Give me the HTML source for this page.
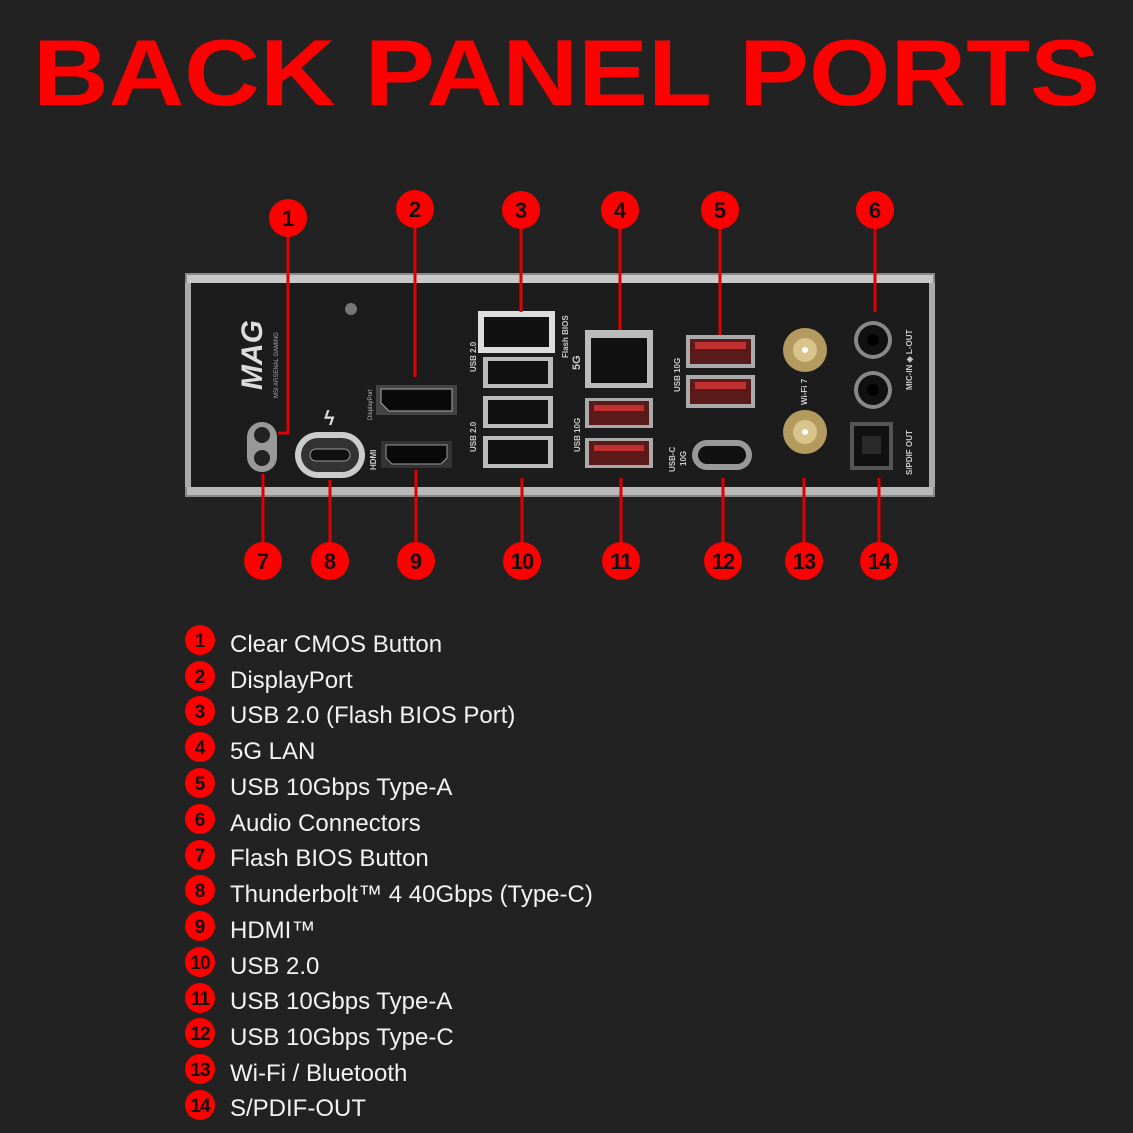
<!DOCTYPE html>
<html><head><meta charset="utf-8"><style>
html,body{margin:0;padding:0;background:#222;}
svg{display:block;}
</style></head><body>
<svg width="1133" height="1133" viewBox="0 0 1133 1133" xmlns="http://www.w3.org/2000/svg" font-family="Liberation Sans, sans-serif">
<rect width="1133" height="1133" fill="#222"/>
<text x="33" y="105" font-size="94" font-weight="bold" fill="#ff0000" textLength="1067" lengthAdjust="spacingAndGlyphs">BACK PANEL PORTS</text>

<!-- panel -->
<rect x="185" y="273" width="750" height="224" fill="#8a8a8a"/>
<rect x="187" y="275" width="746" height="8" fill="#c8c8c8"/>
<rect x="187" y="487" width="746" height="8" fill="#b8b8b8"/>
<rect x="191" y="283" width="738" height="204" fill="#1c1c1c"/>
<rect x="185" y="283" width="6" height="204" fill="#aaa"/>
<rect x="929" y="283" width="6" height="204" fill="#aaa"/>

<!-- logo -->
<text x="0" y="0" transform="translate(262,390) rotate(-90)" font-size="30" font-weight="bold" font-style="italic" fill="#ddd">MAG</text>
<text x="0" y="0" transform="translate(278,398) rotate(-90)" font-size="6" fill="#aaa">MSI ARSENAL GAMING</text>
<circle cx="351" cy="309" r="6" fill="#777"/>

<!-- clear cmos -->
<rect x="247" y="422" width="30" height="50" rx="15" fill="#999"/>
<circle cx="262" cy="435" r="8" fill="#222"/><circle cx="262" cy="458" r="8" fill="#222"/>
<!-- TB4 -->
<text x="324" y="425" font-size="20" fill="#ddd" font-weight="bold">ϟ</text>
<rect x="295" y="432" width="70" height="46" rx="23" fill="#ccc"/>
<rect x="301" y="438" width="58" height="34" rx="17" fill="#333"/>
<rect x="310" y="449" width="40" height="12" rx="6" fill="#111" stroke="#999"/>
<!-- DP -->
<rect x="376" y="385" width="81" height="30" fill="#444"/>
<path d="M381 389 H452 V411 H389 L381 403 Z" fill="#0a0a0a" stroke="#aaa" stroke-width="1"/>
<text transform="translate(372,420) rotate(-90)" font-size="6" fill="#bbb">DisplayPort</text>
<!-- HDMI -->
<rect x="381" y="441" width="71" height="27" fill="#333"/>
<path d="M386 445 H447 V458 L441 464 H392 L386 458 Z" fill="#0a0a0a" stroke="#999"/>
<text transform="translate(376,470) rotate(-90)" font-size="8" fill="#ccc" font-weight="bold">HDMI</text>
<!-- USB2 stack -->
<rect x="478" y="311" width="77" height="42" fill="#ddd"/>
<rect x="484" y="317" width="65" height="30" fill="#111"/>
<rect x="483" y="357" width="70" height="31" fill="#bbb"/><rect x="488" y="361" width="60" height="23" fill="#111"/>
<rect x="483" y="396" width="70" height="32" fill="#bbb"/><rect x="488" y="400" width="60" height="24" fill="#111"/>
<rect x="483" y="436" width="70" height="32" fill="#bbb"/><rect x="488" y="440" width="60" height="24" fill="#111"/>
<text transform="translate(476,372) rotate(-90)" font-size="8" fill="#ccc" font-weight="bold">USB 2.0</text>
<text transform="translate(476,452) rotate(-90)" font-size="8" fill="#ccc" font-weight="bold">USB 2.0</text>
<text transform="translate(568,358) rotate(-90)" font-size="8" fill="#ccc" font-weight="bold">Flash BIOS</text>
<text transform="translate(580,370) rotate(-90)" font-size="11" fill="#ccc" font-weight="bold">5G</text>
<!-- LAN -->
<rect x="585" y="330" width="68" height="58" fill="#bbb"/>
<path d="M591 338 H647 V383 H591 Z" fill="#111"/>
<!-- USB 10G red -->
<rect x="585" y="398" width="68" height="30" fill="#aaa"/><rect x="589" y="401" width="60" height="24" fill="#5a1a1a"/><rect x="594" y="405" width="50" height="6" fill="#c03030"/>
<rect x="585" y="438" width="68" height="30" fill="#aaa"/><rect x="589" y="441" width="60" height="24" fill="#5a1a1a"/><rect x="594" y="445" width="50" height="6" fill="#c03030"/>
<text transform="translate(580,452) rotate(-90)" font-size="8" fill="#ccc" font-weight="bold">USB 10G</text>
<rect x="686" y="335" width="69" height="33" fill="#aaa"/><rect x="690" y="339" width="61" height="25" fill="#5a1a1a"/><rect x="695" y="342" width="51" height="7" fill="#c03030"/>
<rect x="686" y="375" width="69" height="33" fill="#aaa"/><rect x="690" y="379" width="61" height="25" fill="#5a1a1a"/><rect x="695" y="382" width="51" height="7" fill="#c03030"/>
<text transform="translate(680,392) rotate(-90)" font-size="8" fill="#ccc" font-weight="bold">USB 10G</text>
<!-- USB-C -->
<rect x="692" y="440" width="60" height="30" rx="15" fill="#999"/>
<rect x="698" y="446" width="48" height="18" rx="9" fill="#111"/>
<text transform="translate(675,472) rotate(-90)" font-size="8" fill="#ccc" font-weight="bold">USB-C</text>
<text transform="translate(686,466) rotate(-90)" font-size="8" fill="#ccc" font-weight="bold">10G</text>
<!-- wifi -->
<circle cx="805" cy="350" r="22" fill="#b39a5e"/><circle cx="805" cy="350" r="12" fill="#d9c48c"/><circle cx="805" cy="350" r="3" fill="#fff"/>
<circle cx="805" cy="432" r="22" fill="#b39a5e"/><circle cx="805" cy="432" r="12" fill="#d9c48c"/><circle cx="805" cy="432" r="3" fill="#fff"/>
<text transform="translate(807,405) rotate(-90)" font-size="8" fill="#ccc" font-weight="bold">Wi-Fi 7</text>
<!-- audio -->
<circle cx="873" cy="340" r="19" fill="#888"/><circle cx="873" cy="340" r="15" fill="#111"/><circle cx="873" cy="340" r="6" fill="#000"/>
<circle cx="873" cy="390" r="19" fill="#888"/><circle cx="873" cy="390" r="15" fill="#111"/><circle cx="873" cy="390" r="6" fill="#000"/>
<rect x="850" y="422" width="43" height="48" fill="#555"/><rect x="854" y="426" width="35" height="40" fill="#111"/><rect x="862" y="436" width="19" height="18" fill="#2a2a2a"/>
<text transform="translate(912,390) rotate(-90)" font-size="8" fill="#ccc" font-weight="bold">MIC-IN ◈ L-OUT</text>
<text transform="translate(912,475) rotate(-90)" font-size="8" fill="#ccc" font-weight="bold">S/PDIF OUT</text>

<!-- connector lines -->
<g stroke="#e00000" stroke-width="3" fill="none">
<path d="M288 218 V433 H278"/>
<path d="M415 209 V377"/>
<path d="M521 210 V312"/>
<path d="M620 210 V330"/>
<path d="M720 210 V335"/>
<path d="M875 210 V312"/>
<path d="M263 561 V474"/>
<path d="M330 561 V480"/>
<path d="M416 561 V470"/>
<path d="M522 561 V478"/>
<path d="M621 561 V478"/>
<path d="M723 561 V478"/>
<path d="M804 561 V478"/>
<path d="M879 561 V478"/>
</g>
<g font-weight="bold" font-size="22" text-anchor="middle" fill="#111">
<circle cx="288" cy="218" r="19" fill="#f00"/><text x="288" y="226">1</text>
<circle cx="415" cy="209" r="19" fill="#f00"/><text x="415" y="217">2</text>
<circle cx="521" cy="210" r="19" fill="#f00"/><text x="521" y="218">3</text>
<circle cx="620" cy="210" r="19" fill="#f00"/><text x="620" y="218">4</text>
<circle cx="720" cy="210" r="19" fill="#f00"/><text x="720" y="218">5</text>
<circle cx="875" cy="210" r="19" fill="#f00"/><text x="875" y="218">6</text>
<circle cx="263" cy="561" r="19" fill="#f00"/><text x="263" y="569">7</text>
<circle cx="330" cy="561" r="19" fill="#f00"/><text x="330" y="569">8</text>
<circle cx="416" cy="561" r="19" fill="#f00"/><text x="416" y="569">9</text>
<circle cx="522" cy="561" r="19" fill="#f00"/><text x="522" y="569" letter-spacing="-1">10</text>
<circle cx="621" cy="561" r="19" fill="#f00"/><text x="621" y="569" letter-spacing="-1">11</text>
<circle cx="723" cy="561" r="19" fill="#f00"/><text x="723" y="569" letter-spacing="-1">12</text>
<circle cx="804" cy="561" r="19" fill="#f00"/><text x="804" y="569" letter-spacing="-1">13</text>
<circle cx="879" cy="561" r="19" fill="#f00"/><text x="879" y="569" letter-spacing="-1">14</text>
</g>

<!-- legend -->
<g font-size="24" fill="#f2f2f2">
<g font-weight="bold" font-size="19" text-anchor="middle" fill="#111">
<circle cx="200" cy="640" r="15" fill="#f00"/><text x="200" y="647">1</text>
<circle cx="200" cy="676" r="15" fill="#f00"/><text x="200" y="683">2</text>
<circle cx="200" cy="711" r="15" fill="#f00"/><text x="200" y="718">3</text>
<circle cx="200" cy="747" r="15" fill="#f00"/><text x="200" y="754">4</text>
<circle cx="200" cy="783" r="15" fill="#f00"/><text x="200" y="790">5</text>
<circle cx="200" cy="819" r="15" fill="#f00"/><text x="200" y="826">6</text>
<circle cx="200" cy="855" r="15" fill="#f00"/><text x="200" y="862">7</text>
<circle cx="200" cy="890" r="15" fill="#f00"/><text x="200" y="897">8</text>
<circle cx="200" cy="926" r="15" fill="#f00"/><text x="200" y="933">9</text>
<circle cx="200" cy="962" r="15" fill="#f00"/><text x="200" y="969" letter-spacing="-1">10</text>
<circle cx="200" cy="998" r="15" fill="#f00"/><text x="200" y="1005" letter-spacing="-1">11</text>
<circle cx="200" cy="1033" r="15" fill="#f00"/><text x="200" y="1040" letter-spacing="-1">12</text>
<circle cx="200" cy="1069" r="15" fill="#f00"/><text x="200" y="1076" letter-spacing="-1">13</text>
<circle cx="200" cy="1105" r="15" fill="#f00"/><text x="200" y="1112" letter-spacing="-1">14</text>
</g>
<text x="230" y="652">Clear CMOS Button</text>
<text x="230" y="688">DisplayPort</text>
<text x="230" y="723">USB 2.0 (Flash BIOS Port)</text>
<text x="230" y="759">5G LAN</text>
<text x="230" y="795">USB 10Gbps Type-A</text>
<text x="230" y="831">Audio Connectors</text>
<text x="230" y="866">Flash BIOS Button</text>
<text x="230" y="902">Thunderbolt™ 4 40Gbps (Type-C)</text>
<text x="230" y="938">HDMI™</text>
<text x="230" y="974">USB 2.0</text>
<text x="230" y="1009">USB 10Gbps Type-A</text>
<text x="230" y="1045">USB 10Gbps Type-C</text>
<text x="230" y="1081">Wi-Fi / Bluetooth</text>
<text x="230" y="1116">S/PDIF-OUT</text>
</g>
</svg>
</body></html>
